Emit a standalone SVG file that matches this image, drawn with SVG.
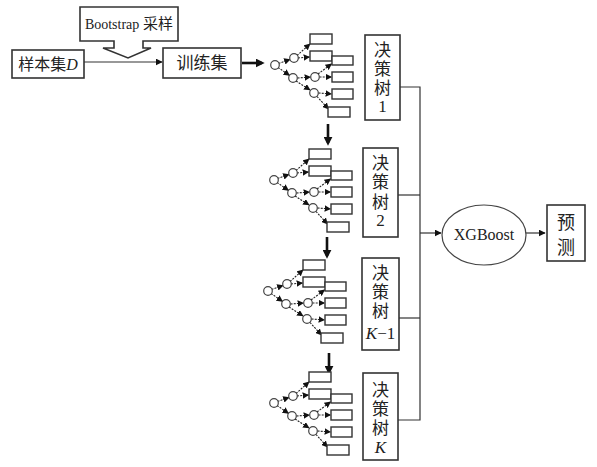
<svg xmlns="http://www.w3.org/2000/svg" xmlns:xlink="http://www.w3.org/1999/xlink" width="597" height="467" viewBox="0 0 597 467">
<style>
.box{fill:#fff;stroke:#333;stroke-width:1.6}
.sbox{fill:#fff;stroke:#333;stroke-width:1.4}
.circ{fill:#fff;stroke:#444;stroke-width:1.2}
.tl{stroke:#222;stroke-width:1.1;stroke-dasharray:2 1.2;fill:none}
.ln{stroke:#333;stroke-width:1.2;fill:none}
.thick{stroke:#111;stroke-width:2.6;fill:none}
.t{font-family:"Liberation Serif","Noto Sans CJK SC",serif;fill:#222;text-anchor:middle}
</style>
<defs>
<marker id="ah" viewBox="0 0 10 10" refX="9" refY="5" markerWidth="7" markerHeight="7" orient="auto" markerUnits="userSpaceOnUse"><path d="M0,0 L10,5 L0,10 z" fill="#111"/></marker>
<marker id="ahs" viewBox="0 0 10 10" refX="9" refY="5" markerWidth="6.5" markerHeight="6.5" orient="auto" markerUnits="userSpaceOnUse"><path d="M0,0 L10,5 L0,10 z" fill="#111"/></marker>
<marker id="ahb" viewBox="0 0 10 10" refX="7" refY="5" markerWidth="9" markerHeight="9" orient="auto" markerUnits="userSpaceOnUse"><path d="M0,0 L10,5 L0,10 z" fill="#111"/></marker>
<g id="treeShape">
<line class="tl" x1="3.5" y1="-1.5" x2="15" y2="-5.5" marker-end="url(#ahs)"/>
<line class="tl" x1="3" y1="2.5" x2="14.5" y2="10.3" marker-end="url(#ahs)"/>
<line class="tl" x1="22" y1="-9.5" x2="35" y2="-21" marker-end="url(#ahs)"/>
<line class="tl" x1="23" y1="-7" x2="34.5" y2="-8" marker-end="url(#ahs)"/>
<line class="tl" x1="22.5" y1="13" x2="35.5" y2="12" marker-end="url(#ahs)"/>
<line class="tl" x1="21" y1="16" x2="35" y2="25" marker-end="url(#ahs)"/>
<line class="tl" x1="43" y1="9" x2="56.5" y2="-1" marker-end="url(#ahs)"/>
<line class="tl" x1="44.5" y1="12" x2="56.5" y2="12" marker-end="url(#ahs)"/>
<line class="tl" x1="43.5" y1="28" x2="56.5" y2="29" marker-end="url(#ahs)"/>
<line class="tl" x1="42" y1="31.5" x2="53.5" y2="44" marker-end="url(#ahs)"/>
<circle class="circ" cx="0" cy="0" r="4.3"/>
<circle class="circ" cx="19" cy="-7" r="4.3"/>
<circle class="circ" cx="18" cy="13" r="4.3"/>
<circle class="circ" cx="40" cy="12" r="4.3"/>
<circle class="circ" cx="39" cy="28" r="4.3"/>
<rect class="sbox" x="35" y="-31" width="22" height="10"/>
<rect class="sbox" x="35" y="-14" width="22" height="10"/>
<rect class="sbox" x="57" y="-9" width="21" height="9"/>
<rect class="sbox" x="57" y="7" width="21" height="10"/>
<rect class="sbox" x="57" y="24" width="21" height="10"/>
<rect class="sbox" x="53" y="42" width="22" height="10"/>
</g>
</defs>
<rect width="597" height="467" fill="#fff"/>

<g id="connectors">
<line class="ln" x1="84" y1="62" x2="162" y2="62" marker-end="url(#ah)"/>
<line class="thick" x1="242" y1="63" x2="262" y2="63" marker-end="url(#ahb)"/>
<line class="thick" x1="328" y1="124" x2="328" y2="143" marker-end="url(#ahb)"/>
<line class="thick" x1="327" y1="237" x2="327" y2="256" marker-end="url(#ahb)"/>
<line class="thick" x1="329" y1="353" x2="329" y2="372" marker-end="url(#ahb)"/>
<polyline class="ln" points="400,87 420,87 420,420 398,420"/>
<line class="ln" x1="398" y1="195" x2="420" y2="195"/>
<line class="ln" x1="399" y1="318" x2="420" y2="318"/>
<line class="ln" x1="420" y1="233" x2="441" y2="233" marker-end="url(#ah)"/>
<line class="ln" x1="526" y1="233" x2="545" y2="233" marker-end="url(#ah)"/>
</g>

<g id="bootstrap">
<path class="box" d="M80,7 H178 V41 H143 V48 H151 L128,58 L103,48 H114 V41 H80 Z"/>
<text class="t" x="129" y="29" font-size="14">Bootstrap<tspan font-size="15"> 采样</tspan></text>
</g>

<g id="sample">
<rect class="box" x="12" y="50" width="72" height="28"/>
<text class="t" x="48" y="70" font-size="16">样本集<tspan font-style="italic">D</tspan></text>
</g>

<g id="train">
<rect class="box" x="163" y="48" width="78" height="30"/>
<text class="t" x="202" y="69" font-size="17">训练集</text>
</g>

<g id="tree1"><use xlink:href="#treeShape" x="275" y="65"/></g>
<g id="tree2"><use xlink:href="#treeShape" x="274" y="180"/></g>
<g id="tree3"><use xlink:href="#treeShape" x="268" y="291"/></g>
<g id="tree4"><use xlink:href="#treeShape" x="274" y="403"/></g>

<g id="dt1">
<rect class="box" x="365" y="35" width="35" height="85"/>
<text class="t" x="382.5" y="56" font-size="17">决</text>
<text class="t" x="382.5" y="75" font-size="17">策</text>
<text class="t" x="382.5" y="94" font-size="17">树</text>
<text class="t" x="382.5" y="112" font-size="17">1</text>
</g>
<g id="dt2">
<rect class="box" x="363" y="148" width="35" height="89"/>
<text class="t" x="380.5" y="169" font-size="17">决</text>
<text class="t" x="380.5" y="188" font-size="17">策</text>
<text class="t" x="380.5" y="208" font-size="17">树</text>
<text class="t" x="380.5" y="226" font-size="17">2</text>
</g>
<g id="dt3">
<rect class="box" x="362" y="258" width="37" height="92"/>
<text class="t" x="380.5" y="279" font-size="17">决</text>
<text class="t" x="380.5" y="298" font-size="17">策</text>
<text class="t" x="380.5" y="317" font-size="17">树</text>
<text class="t" x="380.5" y="339" font-size="17"><tspan font-style="italic">K</tspan>−1</text>
</g>
<g id="dt4">
<rect class="box" x="363" y="373" width="35" height="87"/>
<text class="t" x="380.5" y="396" font-size="17">决</text>
<text class="t" x="380.5" y="415" font-size="17">策</text>
<text class="t" x="380.5" y="434" font-size="17">树</text>
<text class="t" x="380.5" y="453" font-size="17" font-style="italic">K</text>
</g>

<g id="xgboost">
<ellipse fill="#fff" stroke="#444" stroke-width="1.2" cx="484" cy="235" rx="42" ry="30"/>
<text class="t" x="484" y="240" font-size="16">XGBoost</text>
</g>

<g id="predict">
<rect class="box" x="547" y="205" width="38" height="56"/>
<text class="t" x="566" y="229" font-size="18">预</text>
<text class="t" x="566" y="254" font-size="18">测</text>
</g>
</svg>
